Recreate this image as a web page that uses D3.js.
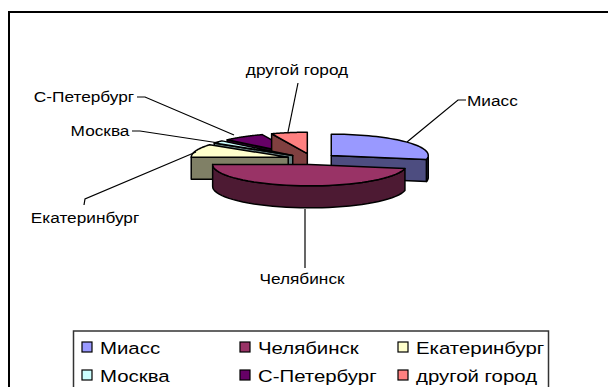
<!DOCTYPE html>
<html>
<head>
<meta charset="utf-8">
<script src="https://cdn.jsdelivr.net/npm/d3@7"></script>
<style>
    html, body { margin: 0; padding: 0; background: #fff; overflow: hidden; }
    text { font-family: "Liberation Sans", Arial, sans-serif; fill: #000; }
</style>
</head>
<body>
<div id="chart"></div>
<script>
const cities = ['Миасс', 'Челябинск', 'Екатеринбург', 'Москва', 'С-Петербург', 'другой город'];
const shares = [28, 47, 10, 2, 7, 6];
const topColors = ['#9999ff', '#993366', '#ffffcc', '#ccffff', '#660066', '#ff8080'];
const sideColors = ['#4d4d80', '#4d1a33', '#808066', '#668080', '#330033', '#804040'];
// back slices go first, Chelyabinsk sits on top of everything
const drawOrder = [4, 5, 3, 0, 2, 1];

const svgWidth = 608;
const svgHeight = 387;
const cx = 312, cy = 159;
const radius = 97;
const squash = 0.22;
const depth = 22;
const explode = 25;

const svg = d3.select('#chart')
    .append('svg')
    .attr('width', svgWidth)
    .attr('height', svgHeight);

// chart frame
svg.append('rect')
    .attr('x', 9).attr('y', 12)
    .attr('width', 620).attr('height', 400)
    .attr('fill', '#fff').attr('stroke', '#000').attr('stroke-width', 2);

const arcs = d3.pie().sort(null).value(d => d)(shares);

const onRim = (a, ox, oy) => [ox + radius * Math.sin(a), oy - radius * squash * Math.cos(a)];

const slices = svg.append('g').attr('stroke', '#000').attr('stroke-width', 1.5).attr('stroke-linejoin', 'round');
const line = d3.line();

drawOrder.forEach(i => {
    const d = arcs[i];
    const mid = (d.startAngle + d.endAngle) / 2;
    const ox = cx + explode * Math.sin(mid);
    const oy = cy - explode * squash * Math.cos(mid);

    const rimAt = (from, to) => d3.range(0, 41).map(k => onRim(from + (to - from) * k / 40, ox, oy));
    const drop = p => [p[0], p[1] + depth];
    const rim = rimAt(d.startAngle, d.endAngle);

    // only the cut faces turned towards the viewer
    [[d.startAngle, Math.sin(d.startAngle) < -1e-6], [d.endAngle, Math.sin(d.endAngle) > 1e-6]].forEach(([a, visible]) => {
        if (!visible) return;
        const p = onRim(a, ox, oy);
        slices.append('path')
            .attr('d', line([[ox, oy], p, drop(p), [ox, oy + depth]]) + 'Z')
            .attr('fill', sideColors[i]);
    });

    // outer wall, front half of the ellipse only
    const wallFrom = Math.max(d.startAngle, Math.PI / 2);
    const wallTo = Math.min(d.endAngle, Math.PI * 1.5);
    if (wallTo > wallFrom) {
        const wall = rimAt(wallFrom, wallTo);
        slices.append('path')
            .attr('d', line(wall.concat(wall.map(drop).reverse())) + 'Z')
            .attr('fill', sideColors[i]);
    }

    // top face
    slices.append('path')
        .attr('d', line([[ox, oy]].concat(rim)) + 'Z')
        .attr('fill', topColors[i]);
});

// leader lines, label anchor points
const leaderPoints = [
    [[466, 100], [458, 100], [407, 142]],
    [[305, 268], [305, 209]],
    [[84, 205], [85, 199], [196, 152]],
    [[132, 131], [140, 131], [219, 143]],
    [[137, 97], [145, 97], [234, 135]],
    [[298, 83], [288, 132]]
];
const labelPos = [
    [467, 106, 'start'],
    [302, 284, 'middle'],
    [85, 223, 'middle'],
    [100, 136, 'middle'],
    [84, 102, 'middle'],
    [297, 75, 'middle']
];

svg.append('g').selectAll('path')
    .data(leaderPoints)
    .enter()
    .append('path')
    .attr('d', d => line(d))
    .attr('fill', 'none')
    .attr('stroke', '#000')
    .attr('stroke-width', 1.2);

svg.append('g').selectAll('text')
    .data(cities)
    .enter()
    .append('text')
    .attr('transform', (d, i) => `translate(${labelPos[i][0]},${labelPos[i][1]}) scale(1.15,1)`)
    .attr('text-anchor', (d, i) => labelPos[i][2])
    .style('font-size', '15px')
    .text(d => d);

// legend
svg.append('rect')
    .attr('x', 73.5).attr('y', 331)
    .attr('width', 475).attr('height', 80)
    .attr('fill', '#fff').attr('stroke', '#333').attr('stroke-width', 1.5);

const legendX = d3.scaleOrdinal().domain([0, 1, 2]).range([82, 240, 398]);
const legendY = d3.scaleOrdinal().domain([0, 1]).range([347, 375]);

const legend = svg.append('g').selectAll('g')
    .data(cities)
    .enter()
    .append('g')
    .attr('transform', (d, i) => `translate(${legendX(i % 3)},${legendY(Math.floor(i / 3))})`);

legend.append('rect')
    .attr('x', 0).attr('y', -5)
    .attr('width', 10).attr('height', 10)
    .attr('fill', (d, i) => topColors[i])
    .attr('stroke', '#000')
    .attr('stroke-width', 1.2);

legend.append('text')
    .attr('transform', 'translate(18,6.5) scale(1.2,1)')
    .style('font-size', '17px')
    .text(d => d);
</script>
</body>
</html>
